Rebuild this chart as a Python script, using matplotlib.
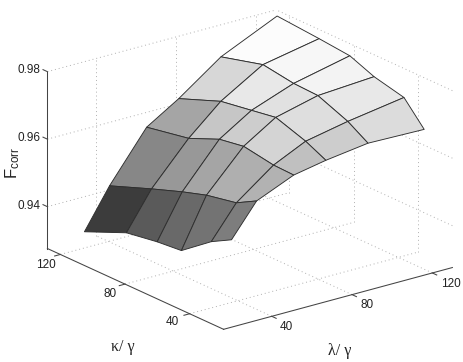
import matplotlib
matplotlib.use("Agg")
import matplotlib.pyplot as plt
import numpy as np

plt.rcParams["font.family"] = ["Liberation Sans", "DejaVu Sans"]

# grid values
lambda_vals = [124, 96, 75, 59, 40.5, 28]
kappa_vals = [120, 94, 75, 60, 41.5, 29]

# rows: kappa high to low, columns: lambda high to low
f_corr = [
    [0.9809, 0.9733, 0.9643, 0.9584, 0.9440, 0.9324],
    [0.9799, 0.9767, 0.9692, 0.9608, 0.9488, 0.9378],
    [0.9790, 0.9753, 0.9707, 0.9647, 0.9521, 0.9393],
    [0.9761, 0.9750, 0.9719, 0.9659, 0.9544, 0.9400],
    [0.9740, 0.9714, 0.9689, 0.9644, 0.9562, 0.9467],
    [0.9673, 0.9677, 0.9660, 0.9642, 0.9595, 0.9500],
]

# gray level of each cell
cell_gray = [
    [252, 215, 165, 135, 60],
    [247, 232, 198, 152, 90],
    [243, 225, 205, 165, 105],
    [232, 222, 212, 175, 115],
    [220, 205, 192, 178, 125],
]

lambda_ticks = [40, 80, 120]
kappa_ticks = [40, 80, 120]
f_ticks = [0.94, 0.96, 0.98]

xmin, xmax = 16, 130
ymin, ymax = 19, 128
zmin, zmax = 0.9276, 0.98

W, H = 463, 362
fig = plt.figure(figsize=(W / 100, H / 100), dpi=100)
S = 437
ax = fig.add_axes([25.5 / W, -32 / H, S / W, S / H], projection="3d",
                  proj_type="ortho", computed_zorder=False)
ax.view_init(elev=20.6, azim=-127.5)
ax.set_box_aspect((290, 291, 190))
ax.set_xlim(xmin, xmax)
ax.set_ylim(ymin, ymax)
ax.set_zlim(zmin, zmax)
ax.set_axis_off()

grid = dict(color="#b0b0b0", linestyle=(0, (1, 3)), linewidth=0.7, zorder=1)
for x in lambda_ticks:
    ax.plot([x, x], [ymin, ymax], [zmin, zmin], **grid)
    ax.plot([x, x], [ymax, ymax], [zmin, zmax], **grid)
for y in kappa_ticks:
    ax.plot([xmin, xmax], [y, y], [zmin, zmin], **grid)
    ax.plot([xmax, xmax], [y, y], [zmin, zmax], **grid)
for z in f_ticks:
    ax.plot([xmin, xmax], [ymax, ymax], [z, z], **grid)
    ax.plot([xmax, xmax], [ymin, ymax], [z, z], **grid)

X, Y = np.meshgrid(lambda_vals, kappa_vals)
Z = np.array(f_corr)
colors = np.array(cell_gray)[:, :, None].repeat(3, axis=2) / 255
ax.plot_surface(X, Y, Z, facecolors=colors, shade=False, edgecolor="#2e2e2e",
                linewidth=0.65, rstride=1, cstride=1, zorder=3)

axis = dict(color="#444444", linewidth=0.75, zorder=4)
ax.plot([xmin, xmax], [ymin, ymin], [zmin, zmin], **axis)
ax.plot([xmin, xmin], [ymin, ymax], [zmin, zmin], **axis)
ax.plot([xmin, xmin], [ymax, ymax], [zmin, zmax], **axis)
tx = 0.025 * (xmax - xmin)
ty = 0.025 * (ymax - ymin)
for x in lambda_ticks:
    ax.plot([x, x], [ymin, ymin - ty], [zmin, zmin], **axis)
for y in kappa_ticks:
    ax.plot([xmin, xmin - tx], [y, y], [zmin, zmin], **axis)
for z in f_ticks:
    ax.plot([xmin, xmin], [ymax, ymax + ty], [z, z], **axis)


def label(px, py, s, **kw):
    kw.setdefault("fontsize", 8.5)
    fig.text(px / W, 1 - py / H, s, ha="center", va="center", color="#222222", **kw)


for z, py in zip(f_ticks, [206, 138, 70]):
    label(29, py, f"{z:.2f}")
for k, (px, py) in zip(kappa_ticks, [(172, 322), (110, 294), (46, 265)]):
    label(px, py, str(k))
for l, (px, py) in zip(lambda_ticks, [(286, 327), (367, 305), (451, 284)]):
    label(px, py, str(l))

label(123, 347, "κ/ γ", fontsize=11.5, family=["Liberation Serif", "DejaVu Serif"])
label(340, 351, "λ/ γ", fontsize=11.5, family=["Liberation Serif", "DejaVu Serif"])
label(13, 163, r"$\mathregular{F_{corr}}$", fontsize=12, rotation=90)

fig.savefig("out.png", dpi=100)
